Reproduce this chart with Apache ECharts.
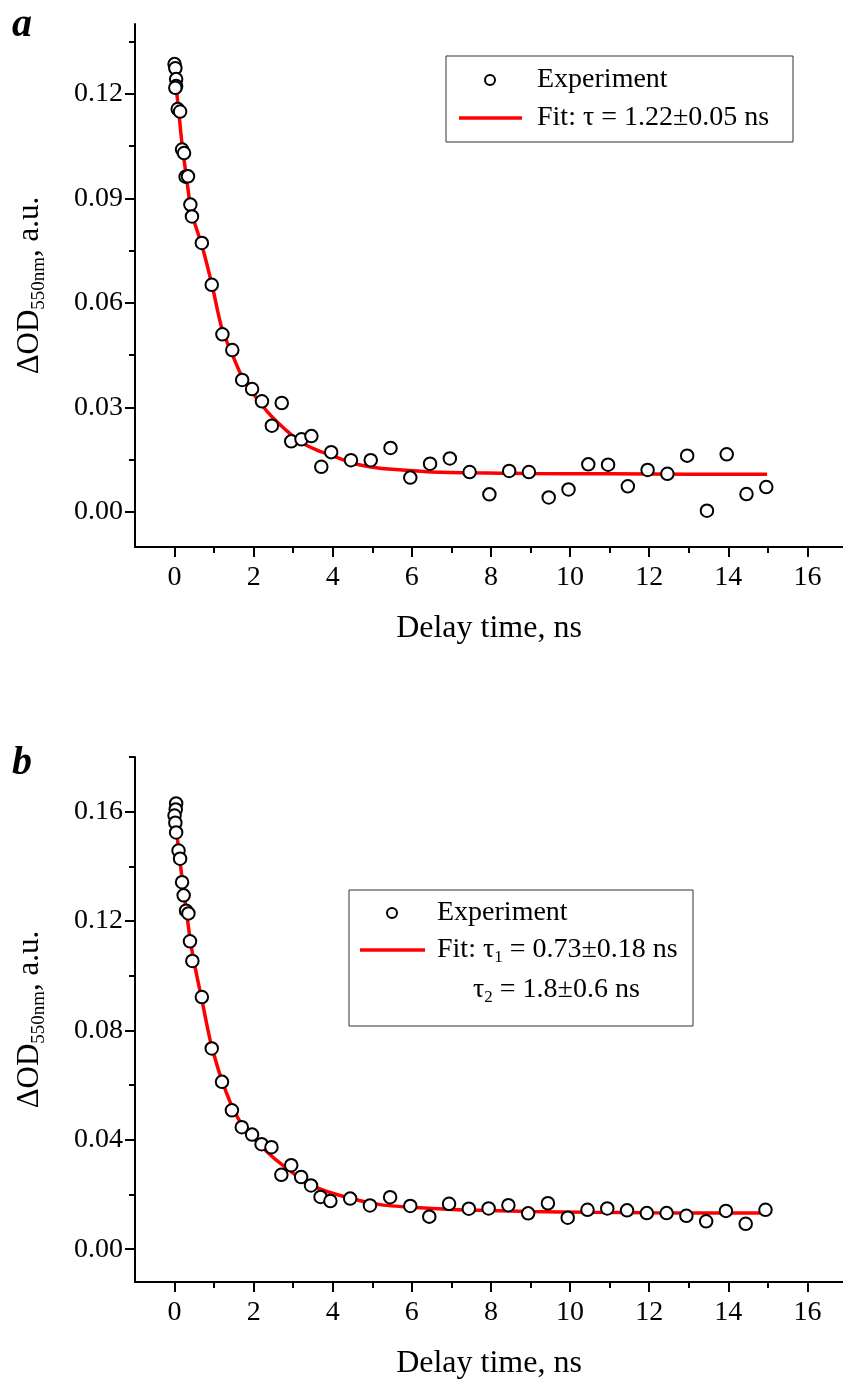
<!DOCTYPE html>
<html><head><meta charset="utf-8">
<script src="https://cdn.jsdelivr.net/npm/echarts@6/dist/echarts.min.js"></script>
<style>html,body{margin:0;padding:0;background:#fff}#c{width:843px;height:1381px}</style>
</head><body><div id="c"></div>
<script>
// ---- Panel a data ----
const timeA = [0.00,0.02,0.04,0.04,0.02,0.08,0.14,0.19,0.24,0.28,0.34,0.40,0.44,0.69,0.94,1.21,1.46,1.71,1.96,2.21,2.46,2.71,2.95,3.21,3.46,3.71,3.96,4.46,4.96,5.46,5.96,6.46,6.96,7.46,7.96,8.46,8.96,9.46,9.96,10.46,10.96,11.46,11.96,12.46,12.96,13.46,13.96,14.46,14.96];
const odA = [0.1285,0.1273,0.1242,0.1222,0.1217,0.1156,0.1149,0.1040,0.1030,0.0962,0.0963,0.0882,0.0848,0.0772,0.0652,0.0510,0.0465,0.0379,0.0353,0.0318,0.0248,0.0313,0.0203,0.0209,0.0218,0.0130,0.0172,0.0149,0.0149,0.0184,0.0099,0.0139,0.0154,0.0115,0.0051,0.0118,0.0115,0.0042,0.0065,0.0137,0.0136,0.0074,0.0121,0.0110,0.0162,0.0004,0.0166,0.0052,0.0072];
const fitTimeA = [0.00,0.05,0.10,0.20,0.30,0.40,0.50,0.70,0.95,1.20,1.45,1.70,1.95,2.20,2.45,2.80,3.20,3.60,3.90,4.50,5.00,5.60,6.40,7.50,9.00,11.00,13.00,14.98];
const fitA = [0.1275,0.1210,0.1155,0.1045,0.0962,0.0878,0.0832,0.0762,0.0650,0.0525,0.0455,0.0390,0.0347,0.0308,0.0275,0.0237,0.0200,0.0178,0.0166,0.0141,0.0129,0.0122,0.0116,0.0113,0.0111,0.0110,0.0109,0.0109];

// ---- Panel b data ----
const timeB = [0.04,0.03,0.00,0.02,0.04,0.10,0.14,0.19,0.23,0.29,0.35,0.39,0.45,0.69,0.94,1.20,1.45,1.70,1.96,2.20,2.45,2.70,2.95,3.20,3.45,3.69,3.94,4.44,4.94,5.45,5.96,6.44,6.94,7.44,7.94,8.44,8.94,9.44,9.94,10.44,10.94,11.44,11.94,12.44,12.94,13.44,13.94,14.44,14.94];
const odB = [0.1630,0.1608,0.1586,0.1560,0.1524,0.1458,0.1428,0.1342,0.1294,0.1238,0.1228,0.1126,0.1054,0.0922,0.0734,0.0612,0.0508,0.0446,0.0419,0.0384,0.0373,0.0272,0.0307,0.0264,0.0233,0.0191,0.0176,0.0185,0.0160,0.0190,0.0158,0.0119,0.0166,0.0148,0.0149,0.0161,0.0131,0.0168,0.0115,0.0144,0.0149,0.0142,0.0132,0.0132,0.0122,0.0102,0.0140,0.0093,0.0144];
const fitTimeB = [0.00,0.05,0.10,0.20,0.30,0.40,0.50,0.70,0.95,1.30,1.65,2.20,2.90,3.55,4.30,5.20,6.40,7.70,9.00,10.50,12.00,14.00,14.96];
const fitB = [0.1610,0.1535,0.1465,0.1345,0.1235,0.1128,0.1045,0.0905,0.0735,0.0576,0.0468,0.0375,0.0288,0.0228,0.0192,0.0163,0.0150,0.0142,0.0138,0.0135,0.0133,0.0132,0.0132];

// ---- tick labels ----
const xMajorTicks = [0,2,4,6,8,10,12,14,16];
const xMinorTicks = [1,3,5,7,9,11,13,15];
const yMajorA = [0,0.03,0.06,0.09,0.12];
const yMinorA = [0.015,0.045,0.075,0.105,0.135];
const yMajorB = [0,0.04,0.08,0.12,0.16];
const yMinorB = [0.02,0.06,0.10,0.14,0.18];

const FONT = '"Liberation Serif", "Times New Roman", serif';
const chart = echarts.init(document.getElementById('c'), null, {renderer:'canvas'});

function xMain(gi){
  return {type:'value', gridIndex:gi, position:'bottom', min:-1, max:16.9,
    axisLine:{show:true, onZero:false, lineStyle:{color:'#000', width:2}},
    axisTick:{show:true, customValues:xMajorTicks, length:10, lineStyle:{color:'#000', width:2}},
    axisLabel:{show:true, customValues:xMajorTicks, fontFamily:FONT, fontSize:28, color:'#000', margin:17},
    splitLine:{show:false},
    name:'Delay time, ns', nameLocation:'middle', nameGap:66,
    nameTextStyle:{fontFamily:FONT, fontSize:32, color:'#000'}};
}
function xMinor(gi){
  return {type:'value', gridIndex:gi, position:'bottom', min:-1, max:16.9,
    axisLine:{show:false, onZero:false}, axisTick:{show:true, customValues:xMinorTicks, length:6, lineStyle:{color:'#000', width:2}},
    axisLabel:{show:false}, splitLine:{show:false}};
}
const yName = '{m|ΔOD}{s|550nm}{m|, a.u.}';
const yRich = {m:{fontFamily:FONT, fontSize:31, color:'#000'}, s:{fontFamily:FONT, fontSize:19, color:'#000', verticalAlign:'top', padding:[19,0,0,0]}};
function yMain(gi, mn, mx, ticks){
  return {type:'value', gridIndex:gi, position:'left', min:mn, max:mx,
    axisLine:{show:true, onZero:false, lineStyle:{color:'#000', width:2}},
    axisTick:{show:true, customValues:ticks, length:10, lineStyle:{color:'#000', width:2}},
    axisLabel:{show:true, customValues:ticks, fontFamily:FONT, fontSize:28, color:'#000', margin:12,
      formatter:v=>Number(v).toFixed(2)},
    splitLine:{show:false},
    name:yName, nameLocation:'middle', nameRotate:90, nameGap:86,
    nameTextStyle:{rich:yRich}};
}
function yMinor(gi, mn, mx, ticks){
  return {type:'value', gridIndex:gi, position:'left', min:mn, max:mx,
    axisLine:{show:false, onZero:false}, axisTick:{show:true, customValues:ticks, length:6, lineStyle:{color:'#000', width:2}},
    axisLabel:{show:false}, splitLine:{show:false}};
}
const pairs = (xs, ys) => xs.map((x,i)=>[x, ys[i]]);
const scatterStyle = {color:'#fff', borderColor:'#000', borderWidth:2, opacity:1};
const subRich = {s:{fontFamily:FONT, fontSize:17, fill:'#000', verticalAlign:'top', padding:[16,0,0,0]}};

const option = {
  animation:false,
  backgroundColor:'#fff',
  grid:[
    {left:135, top:24, width:711.5, height:523},
    {left:135, top:757, width:711.5, height:533}
  ],
  xAxis:[xMain(0), xMinor(0), xMain(1), xMinor(1)],
  yAxis:[yMain(0,-0.01,0.14,yMajorA), yMinor(0,-0.01,0.14,yMinorA), yMain(1,-0.012,0.18,yMajorB), yMinor(1,-0.012,0.18,yMinorB)],
  series:[
    {type:'line', xAxisIndex:0, yAxisIndex:0, data:pairs(fitTimeA, fitA), smooth:0.3, showSymbol:false, lineStyle:{color:'#ff0000', width:3.5}, z:2, silent:true},
    {type:'scatter', xAxisIndex:0, yAxisIndex:0, data:pairs(timeA, odA), symbol:'circle', symbolSize:12.5, itemStyle:scatterStyle, z:3, silent:true},
    {type:'line', xAxisIndex:2, yAxisIndex:2, data:pairs(fitTimeB, fitB), smooth:0.3, showSymbol:false, lineStyle:{color:'#ff0000', width:3.5}, z:2, silent:true},
    {type:'scatter', xAxisIndex:2, yAxisIndex:2, data:pairs(timeB, odB), symbol:'circle', symbolSize:12.5, itemStyle:scatterStyle, z:3, silent:true}
  ],
  graphic:[
    {type:'text', left:12, top:6, style:{text:'a', font:'italic bold 40px "Liberation Serif"', fill:'#000'}},
    {type:'text', left:12, top:744, style:{text:'b', font:'italic bold 40px "Liberation Serif"', fill:'#000'}},
    // legend a
    {type:'rect', shape:{x:446, y:56, width:347, height:86}, style:{fill:'#fff', stroke:'#333', lineWidth:1}, z:10},
    {type:'circle', shape:{cx:490, cy:80, r:5}, style:{fill:'#fff', stroke:'#000', lineWidth:2}, z:11},
    {type:'text', x:537, y:80, style:{text:'Experiment', font:'28px "Liberation Serif"', fill:'#000', verticalAlign:'middle', align:'left'}, z:11},
    {type:'line', shape:{x1:459, y1:118, x2:522, y2:118}, style:{stroke:'#ff0000', lineWidth:3.5}, z:11},
    {type:'text', x:537, y:118, style:{text:'Fit: τ = 1.22±0.05 ns', font:'28px "Liberation Serif"', fill:'#000', verticalAlign:'middle', align:'left'}, z:11},
    // legend b
    {type:'rect', shape:{x:349, y:890, width:344, height:136}, style:{fill:'#fff', stroke:'#333', lineWidth:1}, z:10},
    {type:'circle', shape:{cx:392, cy:913, r:5}, style:{fill:'#fff', stroke:'#000', lineWidth:2}, z:11},
    {type:'text', x:437, y:913, style:{text:'Experiment', font:'28px "Liberation Serif"', fill:'#000', verticalAlign:'middle', align:'left'}, z:11},
    {type:'line', shape:{x1:360, y1:950, x2:425, y2:950}, style:{stroke:'#ff0000', lineWidth:3.5}, z:11},
    {type:'text', x:437, y:950, style:{text:'Fit: τ{s|1} = 0.73±0.18 ns', font:'28px "Liberation Serif"', fill:'#000', verticalAlign:'middle', align:'left', rich:subRich}, z:11},
    {type:'text', x:473, y:990, style:{text:'τ{s|2} = 1.8±0.6 ns', font:'28px "Liberation Serif"', fill:'#000', verticalAlign:'middle', align:'left', rich:subRich}, z:11}
  ]
};
chart.setOption(option);
</script>
</body></html>
